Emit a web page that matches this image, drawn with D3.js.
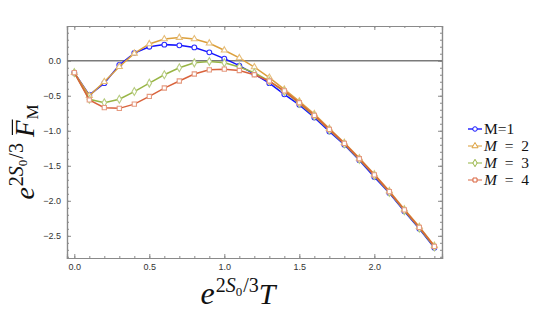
<!DOCTYPE html>
<html>
<head>
<meta charset="utf-8">
<script src="https://cdn.jsdelivr.net/npm/d3@7"></script>
<style>
  body { margin: 0; background: #fff; }
  .tick text { font-family: "Liberation Sans", sans-serif; font-size: 9px; fill: #333; }
  .serif { font-family: "Liberation Serif", serif; fill: #111; }
</style>
</head>
<body>
<div id="chart"></div>
<script>
var svgWidth = 540;
var svgHeight = 319;

// plot frame
var frame = { left: 67, right: 442, top: 26, bottom: 258 };

// data
var temps = [0.0, 0.1, 0.2, 0.3, 0.4, 0.5, 0.6, 0.7, 0.8, 0.9, 1.0, 1.1, 1.2,
  1.3, 1.4, 1.5, 1.6, 1.7, 1.8, 1.9, 2.0, 2.1, 2.2, 2.3, 2.4];
var m1 = [-0.17, -0.49, -0.32, -0.06, 0.11, 0.20, 0.23, 0.22, 0.19, 0.12, 0.03, -0.07, -0.19,
  -0.32, -0.48, -0.63, -0.81, -1.01, -1.20, -1.42, -1.66, -1.89, -2.15, -2.40, -2.67];
var m2 = [-0.17, -0.50, -0.30, -0.085, 0.105, 0.24, 0.31, 0.33, 0.31, 0.25, 0.15, 0.04, -0.09,
  -0.24, -0.41, -0.58, -0.76, -0.97, -1.17, -1.39, -1.62, -1.86, -2.12, -2.37, -2.64];
var m3 = [-0.17, -0.55, -0.60, -0.55, -0.44, -0.32, -0.20, -0.10, -0.03, -0.01, -0.03, -0.09, -0.17,
  -0.29, -0.44, -0.61, -0.79, -0.99, -1.19, -1.41, -1.64, -1.88, -2.14, -2.39, -2.66];
var m4 = [-0.17, -0.56, -0.67, -0.68, -0.62, -0.51, -0.39, -0.29, -0.19, -0.13, -0.12, -0.14, -0.20,
  -0.29, -0.43, -0.60, -0.78, -0.98, -1.18, -1.40, -1.63, -1.87, -2.13, -2.38, -2.65];
var xTickValues = [0, 0.5, 1.0, 1.5, 2.0];
var yTickValues = [0, -0.5, -1.0, -1.5, -2.0, -2.5];

var series = [
  { name: "M=1", values: m1, line: "#1212ff", marker: "#2a2aff", shape: d3.symbolCircle },
  { name: "2", values: m2, line: "#dca03c", marker: "#e6bd79", shape: d3.symbolTriangle },
  { name: "3", values: m3, line: "#98b545", marker: "#b7cc80", shape: d3.symbolDiamond },
  { name: "4", values: m4, line: "#d9633c", marker: "#e59a80", shape: d3.symbolSquare }
];

var svg = d3.select("#chart")
  .append("svg")
  .attr("width", svgWidth)
  .attr("height", svgHeight);

// scales
var xScale = d3.scaleLinear()
  .domain([-0.0487, 2.451])
  .range([frame.left, frame.right]);
var yScale = d3.scaleLinear()
  .domain([-2.817, 0.496])
  .range([frame.bottom, frame.top]);

var frameColor = "#8a8a8a";

// axes (Mathematica style frame ticks, inside)
function styleAxis(g) {
  g.select(".domain").attr("stroke", frameColor).attr("stroke-width", 1.2);
  g.selectAll(".tick line").attr("stroke", frameColor);
}

var xMinor = d3.range(0, 24.5).map(d => d / 10);
var yMinor = d3.range(-28, 5).map(d => d / 10);

// bottom
svg.append("g")
  .attr("transform", `translate(0, ${frame.bottom})`)
  .call(d3.axisBottom(xScale).tickValues(xMinor).tickSize(-2).tickFormat(""))
  .call(styleAxis);
svg.append("g")
  .attr("transform", `translate(0, ${frame.bottom})`)
  .call(d3.axisBottom(xScale).tickValues(xTickValues).tickSize(-4).tickPadding(6)
    .tickFormat(d3.format(".1f")))
  .call(styleAxis);
// top
svg.append("g")
  .attr("transform", `translate(0, ${frame.top})`)
  .call(d3.axisTop(xScale).tickValues(xMinor).tickSize(-2).tickFormat(""))
  .call(styleAxis);
svg.append("g")
  .attr("transform", `translate(0, ${frame.top})`)
  .call(d3.axisTop(xScale).tickValues(xTickValues).tickSize(-4).tickFormat(""))
  .call(styleAxis);
// left
svg.append("g")
  .attr("transform", `translate(${frame.left}, 0)`)
  .call(d3.axisLeft(yScale).tickValues(yMinor).tickSize(-2).tickFormat(""))
  .call(styleAxis);
svg.append("g")
  .attr("transform", `translate(${frame.left}, 0)`)
  .call(d3.axisLeft(yScale).tickValues(yTickValues).tickSize(-4).tickPadding(6)
    .tickFormat(d => d3.format(".1f")(d).replace("-", "\u2212")))
  .call(styleAxis);
// right
svg.append("g")
  .attr("transform", `translate(${frame.right}, 0)`)
  .call(d3.axisRight(yScale).tickValues(yMinor).tickSize(-2).tickFormat(""))
  .call(styleAxis);
svg.append("g")
  .attr("transform", `translate(${frame.right}, 0)`)
  .call(d3.axisRight(yScale).tickValues(yTickValues).tickSize(-4).tickFormat(""))
  .call(styleAxis);

// zero line
svg.append("line")
  .attr("x1", frame.left).attr("x2", frame.right)
  .attr("y1", yScale(0)).attr("y2", yScale(0))
  .attr("stroke", "#7a7a7a")
  .attr("stroke-width", 1.4);

// lines + markers
var line = d3.line()
  .x((d, i) => xScale(temps[i]))
  .y(d => yScale(d));

series.forEach(function(s) {
  svg.append("path")
    .datum(s.values)
    .attr("d", line)
    .attr("fill", "none")
    .attr("stroke", s.line)
    .attr("stroke-width", 1.5);
  svg.append("g").selectAll("path")
    .data(s.values)
    .enter()
    .append("path")
    .attr("transform", (d, i) => `translate(${xScale(temps[i])}, ${yScale(d)})`)
    .attr("d", d3.symbol().type(s.shape).size(s.shape === d3.symbolTriangle ? 16 : 18))
    .attr("fill", "#fff")
    .attr("stroke", s.marker)
    .attr("stroke-width", 1.1);
});

// legend
var legend = svg.append("g");
series.forEach(function(s, i) {
  var ly = 129 + i * 17;
  legend.append("line")
    .attr("x1", 468).attr("x2", 482)
    .attr("y1", ly).attr("y2", ly)
    .attr("stroke", s.marker)
    .attr("stroke-width", 1.5);
  legend.append("path")
    .attr("transform", `translate(475, ${ly})`)
    .attr("d", d3.symbol().type(s.shape).size(16))
    .attr("fill", "#fff")
    .attr("stroke", s.line)
    .attr("stroke-width", 1);
  var t = legend.append("text")
    .attr("class", "serif")
    .attr("x", 484)
    .attr("y", ly + 5)
    .attr("font-size", 15.5);
  if (i === 0) {
    t.text(s.name);
  } else {
    t.append("tspan").attr("font-style", "italic").text("M");
    t.append("tspan").text("\u2002=\u2002" + s.name);
  }
});

// math labels built from pieces
function mathLabel(g, parts) {
  var x = 0;
  parts.forEach(function(p) {
    var t = g.append("text")
      .attr("class", "serif")
      .attr("x", x)
      .attr("y", p.dy || 0)
      .attr("font-size", p.size)
      .attr("font-style", p.italic ? "italic" : "normal")
      .text(p.t);
    var w = t.node().getComputedTextLength();
    if (p.over) {
      g.append("line")
        .attr("x1", x + 2).attr("x2", x + w + 1)
        .attr("y1", -p.size * 0.8).attr("y2", -p.size * 0.8)
        .attr("stroke", "#111").attr("stroke-width", 1.2);
    }
    x += w + (p.gap || 0);
  });
  return x;
}

// x label
var xl = svg.append("g");
var xw = mathLabel(xl, [
  { t: "e", size: 32, italic: true, gap: 1 },
  { t: "2", size: 20, dy: -12 },
  { t: "S", size: 20, dy: -12, italic: true },
  { t: "0", size: 13, dy: -8, gap: 1 },
  { t: "/3", size: 20, dy: -12 },
  { t: "T", size: 30, italic: true }
]);
xl.attr("transform", `translate(${238 - xw / 2}, 304)`);

// y label
var yl = svg.append("g");
var yw = mathLabel(yl, [
  { t: "e", size: 28, italic: true, gap: 1 },
  { t: "2", size: 20, dy: -11 },
  { t: "S", size: 20, dy: -11, italic: true },
  { t: "0", size: 13, dy: -7, gap: 1 },
  { t: "/3", size: 20, dy: -11, gap: 6 },
  { t: "F", size: 27, italic: true, over: true, gap: 1 },
  { t: "M", size: 17, dy: 4 }
]);
yl.attr("transform", `translate(34, ${152 + yw / 2}) rotate(-90)`);
</script>
</body>
</html>
